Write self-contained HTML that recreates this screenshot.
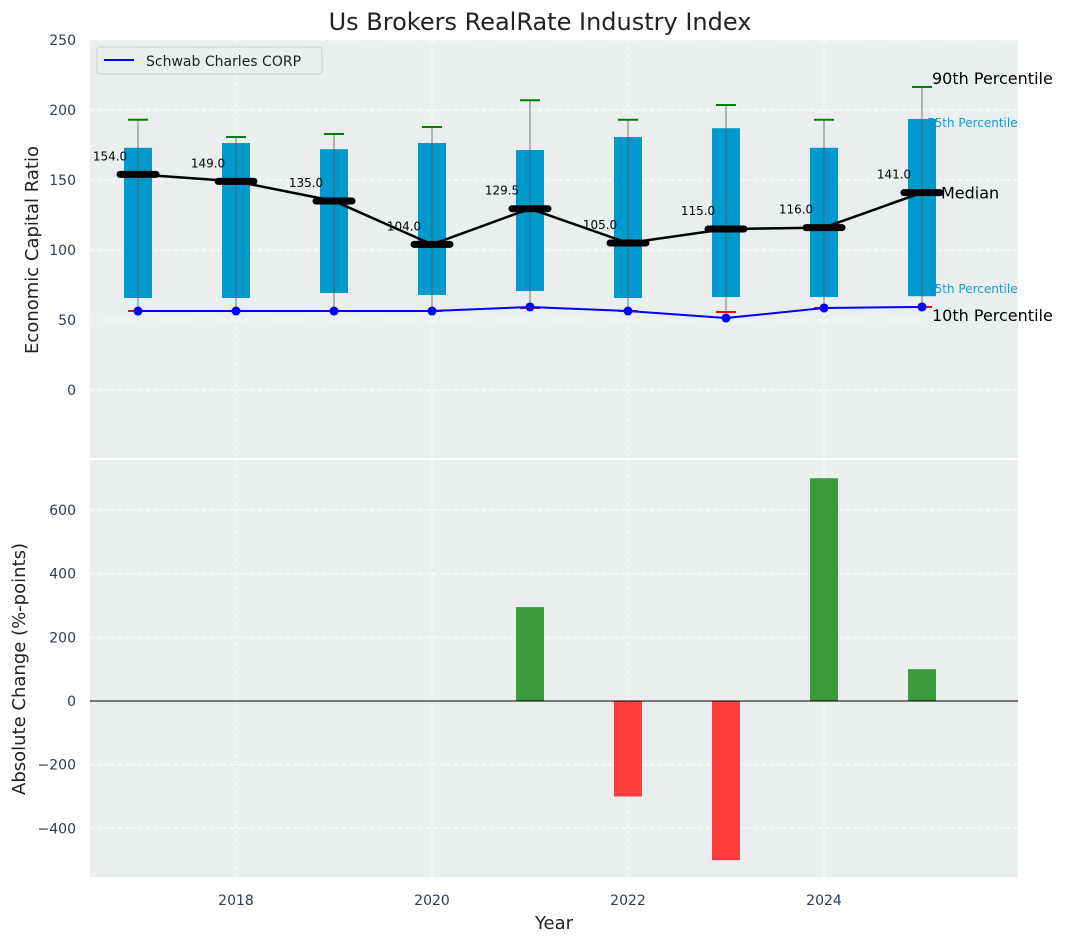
<!DOCTYPE html>
<html><head><meta charset="utf-8"><style>
body{margin:0;background:#fff;font-family:"Liberation Sans","DejaVu Sans",sans-serif}
svg text{font-family:"DejaVu Sans","Liberation Sans",sans-serif}
</style></head><body>
<svg id="c" width="1067" height="942" xmlns="http://www.w3.org/2000/svg"></svg>
<script>
const years=[2017,2018,2019,2020,2021,2022,2023,2024,2025];
const p10=[56.4,56.4,56.4,56.4,58.6,56.4,55.7,58.6,59.3];
const p25=[65.7,65.7,69.3,67.9,70.7,65.7,66.4,66.4,67];
const medians=[154,149,135,104,129.5,105,115,116,141];
const p75=[173,176.4,172,176.4,171.4,180.7,187,173,193.6];
const p90=[193,180.7,182.9,187.9,207,193,203.6,193,216.4];
const company=[56.4,56.4,56.4,56.4,59.3,56.4,51.4,58.6,59.3];
const changeYears=[2021,2022,2023,2024,2025];
const changes=[295,-300,-500,700,100];
const topTicks=[0,50,100,150,200,250];
const botTicks=[-400,-200,0,200,400,600];
const xTicks=[2018,2020,2022,2024];

const svg=document.getElementById('c');const NS='http://www.w3.org/2000/svg';
function el(t,a,txt){const e=document.createElementNS(NS,t);for(const k in a)e.setAttribute(k,a[k]);if(txt!==undefined)e.textContent=txt;svg.appendChild(e);return e;}
const L=90,R=1018;
const x=v=>138+(v-2017)*98;
const yT=v=>390-v*1.4;
const yB=v=>701-v*0.3183;
let e=el('rect',{x:L,y:40,width:R-L,height:418,fill:'#eaeeef'});

e=el('rect',{x:L,y:460,width:R-L,height:417,fill:'#eaeeef'});

topTicks.forEach(t=>{el('line',{x1:L,x2:R,y1:yT(t),y2:yT(t),stroke:'#fff','stroke-dasharray':'4,3'});
 e=el('text',{x:76,y:yT(t)+5,'text-anchor':'end','font-size':14,fill:'#2e3e50'},t);});
botTicks.forEach(t=>{el('line',{x1:L,x2:R,y1:yB(t),y2:yB(t),stroke:'#fff','stroke-dasharray':'4,3'});
 e=el('text',{x:76,y:yB(t)+5,'text-anchor':'end','font-size':14,fill:'#2e3e50'},t<0?'\u2212'+(-t):t);});
xTicks.forEach(t=>{el('line',{x1:x(t),x2:x(t),y1:40,y2:458,stroke:'#fff','stroke-dasharray':'4,3'});el('line',{x1:x(t),x2:x(t),y1:460,y2:877,stroke:'#fff','stroke-dasharray':'4,3'});
 e=el('text',{x:x(t),y:905,'text-anchor':'middle','font-size':14,fill:'#2e3e50'},t);});
const lx=x(2025)+10;
e=el('text',{x:lx-5,y:yT(p75[8])+8,'font-size':12,fill:'#1a9bcc'},'75th Percentile');
e=el('text',{x:lx-5,y:yT(p25[8])-3,'font-size':12,fill:'#1a9bcc'},'25th Percentile');
years.forEach((yr,i)=>{const cx=x(yr);
 e=el('line',{x1:cx-10,x2:cx+10,y1:yT(p10[i]),y2:yT(p10[i]),stroke:'red','stroke-width':2});
 e=el('rect',{x:cx-14,y:yT(p75[i]),width:28,height:yT(p25[i])-yT(p75[i]),fill:'#0099cc'});
 e=el('line',{x1:cx,x2:cx,y1:yT(p90[i]),y2:yT(p10[i]),stroke:'#555','stroke-width':1,opacity:0.8});
 e=el('line',{x1:cx-10,x2:cx+10,y1:yT(p90[i]),y2:yT(p90[i]),stroke:'green','stroke-width':2});
});
e=el('polyline',{points:years.map((yr,i)=>x(yr)+','+yT(medians[i])).join(' '),fill:'none',stroke:'#000','stroke-width':2.5});
years.forEach((yr,i)=>{const cx=x(yr);
 e=el('line',{x1:cx-18,x2:cx+18,y1:yT(medians[i]),y2:yT(medians[i]),stroke:'#000','stroke-width':7,'stroke-linecap':'round'});
 e=el('text',{x:cx-28,y:yT(medians[i])-14,'text-anchor':'middle','font-size':12,fill:'#000'},medians[i].toFixed(1));
});
e=el('polyline',{points:years.map((yr,i)=>x(yr)+','+yT(company[i])).join(' '),fill:'none',stroke:'blue','stroke-width':2});
years.forEach((yr,i)=>{e=el('circle',{cx:x(yr),cy:yT(company[i]),r:4.5,fill:'blue'});});
e=el('text',{x:lx,y:yT(p90[8])-3,'font-size':16,fill:'#000'},'90th Percentile');
e=el('text',{x:lx+9,y:yT(medians[8])+6,'font-size':16,fill:'#000'},'Median');
e=el('text',{x:lx,y:yT(company[8])+14,'font-size':16,fill:'#000'},'10th Percentile');
e=el('rect',{x:97,y:47,width:225,height:27,rx:3,fill:'#eaeeef',stroke:'#ccc'});
el('line',{x1:104,x2:134,y1:60,y2:60,stroke:'blue','stroke-width':2});
e=el('text',{x:146,y:66,'font-size':14,fill:'#222'},'Schwab Charles CORP');
changeYears.forEach((yr,i)=>{const v=changes[i];const y0=yB(0),y1=yB(v);
 e=el('rect',{x:x(yr)-14,y:Math.min(y0,y1),width:28,height:Math.abs(y1-y0),fill:v>=0?'#3a9b3d':'#ff3d3d'});});
el('line',{x1:L,x2:R,y1:yB(0),y2:yB(0),stroke:'#000','stroke-width':1});
e=el('text',{x:540,y:30,'text-anchor':'middle','font-size':24,fill:'#222'},'Us Brokers RealRate Industry Index');
e=el('text',{x:0,y:0,'text-anchor':'middle','font-size':18,fill:'#222',transform:'translate(38,250) rotate(-90)'},'Economic Capital Ratio');
e=el('text',{x:0,y:0,'text-anchor':'middle','font-size':18,fill:'#222',transform:'translate(25,669) rotate(-90)'},'Absolute Change (%-points)');
e=el('text',{x:554,y:929,'text-anchor':'middle','font-size':18,fill:'#222'},'Year');
</script>
</body></html>
